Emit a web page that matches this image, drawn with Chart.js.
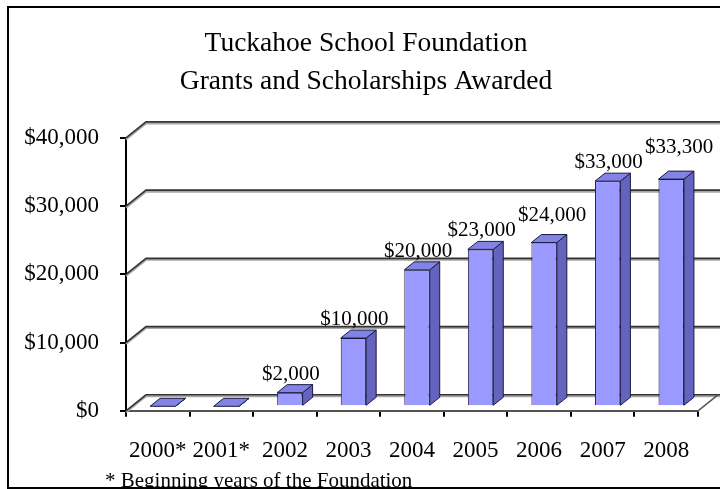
<!DOCTYPE html>
<html>
<head>
<meta charset="utf-8">
<script src="https://cdn.jsdelivr.net/npm/chart.js@4/dist/chart.umd.min.js"></script>
<style>
  html, body { margin: 0; padding: 0; background: #fff; }
  #wrap { width: 720px; height: 489px; position: relative; }
</style>
</head>
<body>
<div id="wrap"><canvas id="grafico"></canvas></div>
<script>
const titleLines = ["Tuckahoe School Foundation", "Grants and Scholarships Awarded"];
const categories = ["2000*", "2001*", "2002", "2003", "2004", "2005", "2006", "2007", "2008"];
const awarded = [0, 0, 2000, 10000, 20000, 23000, 24000, 33000, 33300];
const yMin = 0;
const yMax = 40000;
const yStep = 10000;
const footnote = "* Beginning years of the Foundation";

const serif = "'Liberation Serif', 'Times New Roman', serif";
const money = (v) => "$" + Number(v).toLocaleString("en-US");

// profundidad 3D
const wallDx = 20, wallDy = -16;   // pared del fondo
const barOx = 5, barOy = -4.5;     // cara frontal de la barra
const barDx = 10, barDy = -8;      // grosor de la barra

function poly(ctx, pts, fill, stroke) {
  ctx.beginPath();
  ctx.moveTo(pts[0][0], pts[0][1]);
  for (let i = 1; i < pts.length; i++) ctx.lineTo(pts[i][0], pts[i][1]);
  ctx.closePath();
  if (fill) { ctx.fillStyle = fill; ctx.fill(); }
  if (stroke) { ctx.strokeStyle = stroke; ctx.lineWidth = 1; ctx.stroke(); }
}

const efecto3d = {
  id: "efecto3d",
  beforeDatasetsDraw(chart) {
    const { ctx, chartArea, scales } = chart;
    const y = scales.y;
    const left = chartArea.left, right = chartArea.right, bottom = chartArea.bottom;
    ctx.save();
    // lineas de la pared del fondo
    for (let v = yMin; v <= yMax; v += yStep) {
      const py = y.getPixelForValue(v);
      [["#a8a8a8", 2, 1.5], ["#333", 1.6, 0]].forEach(([col, lw, sh]) => {
        ctx.beginPath();
        ctx.moveTo(left, py + sh);
        ctx.lineTo(left + wallDx, py + wallDy + sh);
        ctx.lineTo(chart.width + 5, py + wallDy + sh);
        ctx.strokeStyle = col;
        ctx.lineWidth = lw;
        ctx.stroke();
      });
    }
    // piso
    ctx.beginPath();
    ctx.moveTo(right, bottom);
    ctx.lineTo(right + wallDx, bottom + wallDy);
    ctx.strokeStyle = "#555";
    ctx.lineWidth = 1.5;
    ctx.stroke();
    ctx.restore();
    // barras desplazadas hacia el centro de la profundidad
    ctx.save();
    ctx.translate(barOx, barOy);
  },
  afterDatasetsDraw(chart) {
    const { ctx } = chart;
    ctx.restore();
    const meta = chart.getDatasetMeta(0);
    const boxes = [];
    ctx.save();
    meta.data.forEach((el, i) => {
      const p = el.getProps(["x", "y", "base", "width"], true);
      const x0 = p.x - p.width / 2 + barOx;
      const x1 = p.x + p.width / 2 + barOx;
      const yt = p.y + barOy;
      const yb = p.base + barOy;
      poly(ctx, [[x1, yt], [x1 + barDx, yt + barDy], [x1 + barDx, yb + barDy], [x1, yb]], "#6464be", "#1a1a40");
      poly(ctx, [[x0, yt], [x1, yt], [x1 + barDx, yt + barDy], [x0 + barDx, yt + barDy]], "#8383e6", "#1a1a40");

      const v = awarded[i];
      if (!v) return;
      ctx.font = "21px " + serif;
      const txt = money(v);
      const w = ctx.measureText(txt).width;
      let cx = p.x + barOx + 1;
      let base = yt + barDy - 5;
      const prev = boxes[boxes.length - 1];
      if (prev && cx - w / 2 < prev.x1 + 4 && base > prev.base - 16) {
        cx += 7;
        base = Math.min(base, prev.base - 15);
      }
      boxes.push({ x1: cx + w / 2, base: base });
      ctx.fillStyle = "#000";
      ctx.textAlign = "center";
      ctx.textBaseline = "alphabetic";
      ctx.fillText(txt, cx, base);
    });
    ctx.restore();
  },
  afterDraw(chart) {
    const { ctx } = chart;
    ctx.save();
    ctx.font = "21px " + serif;
    ctx.fillStyle = "#000";
    ctx.textAlign = "left";
    ctx.textBaseline = "alphabetic";
    ctx.fillText(footnote, 105, 487);
    // marco
    ctx.strokeStyle = "#000";
    ctx.lineWidth = 2;
    ctx.strokeRect(8, 7, chart.width + 20, 481);
    ctx.restore();
  }
};

new Chart(document.getElementById("grafico"), {
  type: "bar",
  data: {
    labels: categories,
    datasets: [{
      label: "Awarded",
      data: awarded,
      backgroundColor: "#9999ff",
      borderColor: "#1a1a40",
      borderWidth: 1,
      barPercentage: 0.4,
      categoryPercentage: 1,
      clip: false
    }]
  },
  options: {
    responsive: true,
    maintainAspectRatio: false,
    animation: false,
    layout: { padding: { top: 0, left: 12, right: 0, bottom: 4.6 } },
    plugins: {
      legend: { display: false },
      tooltip: { enabled: false },
      title: {
        display: true,
        text: titleLines,
        color: "#000",
        font: { family: serif, size: 27.5, weight: "normal", lineHeight: 1.38 },
        padding: { top: 25, bottom: 37 }
      }
    },
    scales: {
      x: {
        grid: { display: true, drawOnChartArea: false, drawTicks: true, tickLength: 6, color: "#000", lineWidth: 2, offset: true },
        border: { display: true, color: "#555", width: 2 },
        ticks: { color: "#000", padding: 20, font: { family: serif, size: 23 }, maxRotation: 0, autoSkip: false }
      },
      y: {
        min: yMin,
        max: yMax,
        afterFit: (scale) => { scale.width = 114; },
        grid: { display: true, drawOnChartArea: false, drawTicks: true, tickLength: 6, color: "#000", lineWidth: 2 },
        border: { display: true, color: "#000", width: 2 },
        ticks: { stepSize: yStep, color: "#000", padding: 21, font: { family: serif, size: 23 }, callback: (v) => money(v) }
      },
      // eje vacio a la derecha: deja sitio para la profundidad
      fondo: {
        type: "linear",
        position: "right",
        display: true,
        min: yMin,
        max: yMax,
        afterFit: (scale) => { scale.width = 22; },
        grid: { display: false },
        border: { display: false },
        ticks: { display: false }
      }
    }
  },
  plugins: [efecto3d]
});
</script>
</body>
</html>
